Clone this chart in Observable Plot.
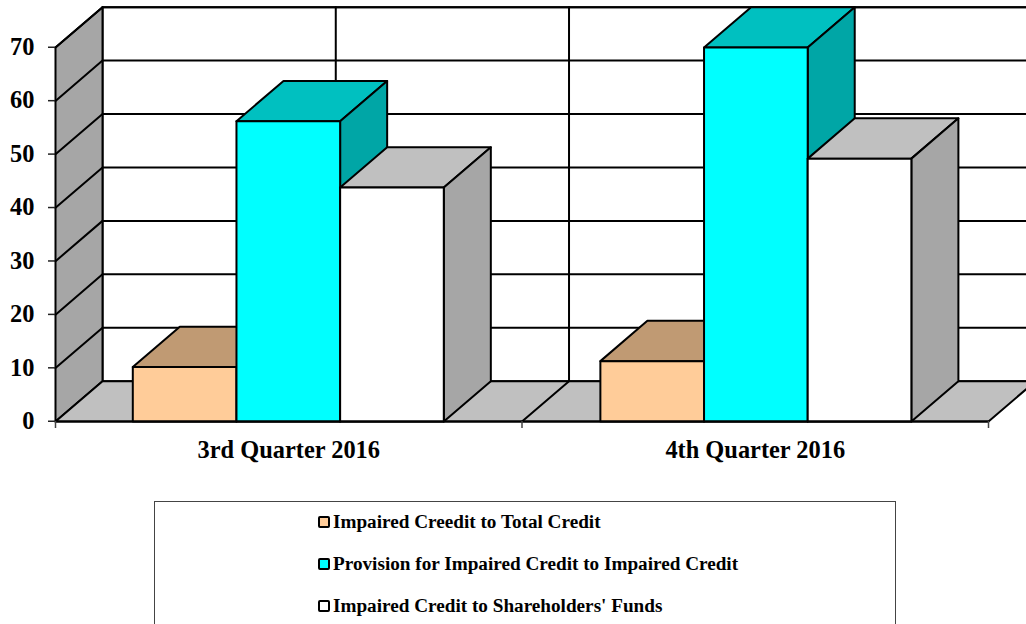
<!DOCTYPE html>
<html>
<head>
<meta charset="utf-8">
<script src="https://cdn.jsdelivr.net/npm/d3@7"></script>
<script src="https://cdn.jsdelivr.net/npm/@observablehq/plot@0.6"></script>
<style>
html,body{margin:0;padding:0;background:#fff;overflow:hidden;width:1026px;height:624px}
#chart{position:absolute;left:0;top:0}
#legend{position:absolute;left:154px;top:501px;width:740px;height:160px;border:1px solid #444;background:#fff;
font-family:"Liberation Serif",serif;font-weight:bold;font-size:19.2px;color:#000}
.item{position:absolute;left:163px;display:flex;align-items:center;height:24px;white-space:nowrap}
.sw{display:inline-block;width:8px;height:8px;border:2px solid #000;border-radius:2px;margin-right:3px}
</style>
</head>
<body>
<div id="chart"></div>
<div id="legend"></div>
<script>
const categories = ["3rd Quarter 2016", "4th Quarter 2016"];
const seriesNames = ["Impaired Creedit to Total Credit", "Provision for Impaired Credit to Impaired Credit", "Impaired Credit to Shareholders' Funds"];
const impairedToTotal = [10.2, 11.3];
const provisionToImpaired = [56.2, 70];
const impairedToFunds = [43.8, 49.2];
const yTicks = [0, 10, 20, 30, 40, 50, 60, 70];
const frontColors = ["#FFCC99", "#00FFFF", "#FFFFFF"];
const topColors = ["#C09A73", "#00C0C0", "#C0C0C0"];
const sideColors = ["#A68560", "#00A6A6", "#A6A6A6"];

const series = [impairedToTotal, provisionToImpaired, impairedToFunds];
const yMax = 70;
const depthX = 0.1008;     // oblique depth, in x-scale units
const depthY = 7.55;       // oblique depth, in y-scale units
const barW = 2 / 9;
const barStart = 0.1657;
const groupStep = 1.0023;
const sw = 2;

const poly = (pts, fill) => Plot.line([...pts, pts[0]].map(([x, y]) => ({x, y})),
  {x: "x", y: "y", fill, stroke: "#000", strokeWidth: sw, curve: "linear"});
const seg = (pts) => Plot.line(pts.map(([x, y]) => ({x, y})),
  {x: "x", y: "y", stroke: "#000", strokeWidth: sw});

const marks = [];
// back wall, left wall, floor
marks.push(poly([[depthX, depthY], [2 + depthX, depthY], [2 + depthX, yMax + depthY], [depthX, yMax + depthY]], "#FFFFFF"));
yTicks.slice(1).forEach(v => marks.push(seg([[depthX, v + depthY], [2 + depthX, v + depthY]])));
[0.5, 1, 1.5, 2].forEach(c => marks.push(seg([[c + depthX, depthY], [c + depthX, yMax + depthY]])));
marks.push(poly([[0, 0], [depthX, depthY], [depthX, yMax + depthY], [0, yMax]], "#A6A6A6"));
yTicks.slice(1).forEach(v => marks.push(seg([[0, v], [depthX, v + depthY]])));
marks.push(poly([[0, 0], [2, 0], [2 + depthX, depthY], [depthX, depthY]], "#C0C0C0"));
[1].forEach(c => marks.push(seg([[c, 0], [c + depthX, depthY]])));
// bars
categories.forEach((_, c) => {
  series.forEach((vals, s) => {
    const x0 = c * groupStep + barStart + s * barW, x1 = x0 + barW, v = vals[c];
    marks.push(poly([[x0, v], [x1, v], [x1 + depthX, v + depthY], [x0 + depthX, v + depthY]], topColors[s]));
    marks.push(poly([[x1, 0], [x1 + depthX, depthY], [x1 + depthX, v + depthY], [x1, v]], sideColors[s]));
    marks.push(poly([[x0, 0], [x1, 0], [x1, v], [x0, v]], frontColors[s]));
  });
});
marks.push(seg([[0, 0], [2, 0]]));
// axes
marks.push(Plot.axisY({ticks: yTicks, tickSize: 7, tickPadding: 14, fontSize: 24.4, fontWeight: "bold", strokeWidth: 1.5, stroke: "#222", fill: "#000", label: null, dy: -0.25}));
marks.push(Plot.axisX({ticks: [0, 1, 2], tickSize: 7, tickFormat: () => "", strokeWidth: 1.5, stroke: "#444", label: null}));
marks.push(Plot.axisX({ticks: [0.5, 1.5], tickSize: 0, tickPadding: 19, tickFormat: d => categories[d - 0.5], fontSize: 24.4, fontWeight: "bold", fill: "#000", label: null}));

const plot = Plot.plot({
  width: 1026, height: 490,
  marginLeft: 55, marginRight: 38, marginTop: 47, marginBottom: 69,
  x: {domain: [0, 2]},
  y: {domain: [0, yMax]},
  style: {fontFamily: '"Liberation Serif", serif', background: "#fff"},
  marks
});
document.getElementById("chart").appendChild(plot);

const legend = document.getElementById("legend");
seriesNames.forEach((name, i) => {
  const el = document.createElement("div");
  el.className = "item";
  el.style.top = (8 + i * 42) + "px";
  const s = document.createElement("span");
  s.className = "sw";
  s.style.background = frontColors[i];
  el.appendChild(s);
  el.appendChild(document.createTextNode(name));
  legend.appendChild(el);
});
</script>
</body>
</html>
